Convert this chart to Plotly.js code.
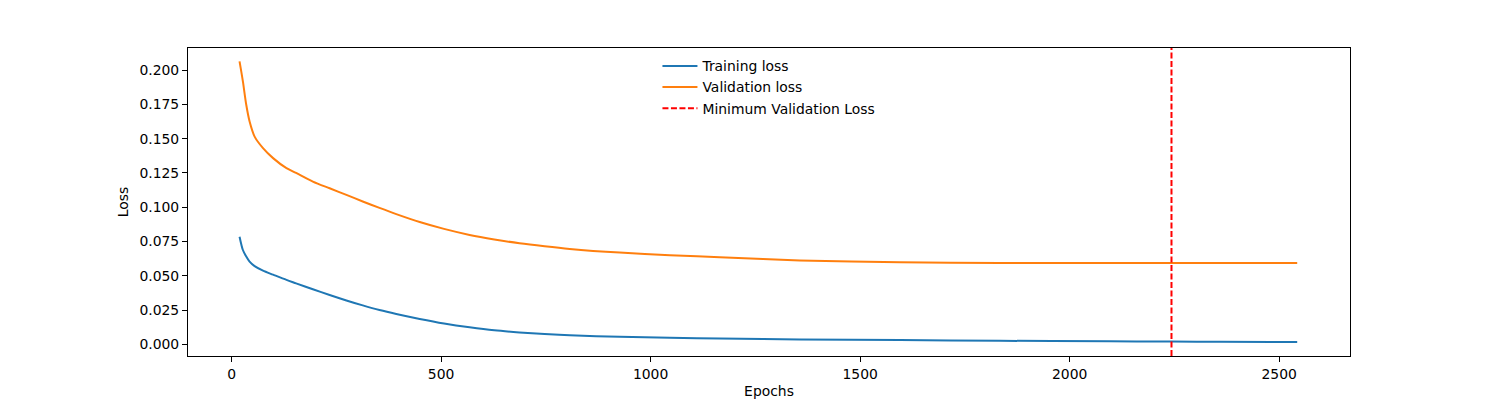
<!DOCTYPE html>
<html>
<head>
<meta charset="utf-8">
<script src="https://cdn.plot.ly/plotly-3.0.1.min.js"></script>
<style>
  html, body { margin: 0; padding: 0; background: #fff; }
  #chart { width: 1500px; height: 400px; }
</style>
</head>
<body>
<div id="chart"></div>
<script>
    // --- DATA ---
    const epochs = [19, 27, 35, 43, 55, 75, 99, 131, 154, 194, 234, 274, 313, 353, 393, 449, 507, 568, 627, 687, 747, 807, 926, 1046, 1165, 1356, 1595, 1833, 2096, 2243, 2358, 2543];
    const trainLoss = [0.0785, 0.0688, 0.0640, 0.0603, 0.0570, 0.0537, 0.0508, 0.0470, 0.0445, 0.0402, 0.0360, 0.0320, 0.0284, 0.0250, 0.0221, 0.0185, 0.0152, 0.0124, 0.0102, 0.0087, 0.0075, 0.0066, 0.0055, 0.0048, 0.0043, 0.0036, 0.0031, 0.0026, 0.0022, 0.0020, 0.0019, 0.0017];
    const valLoss = [0.2063, 0.1917, 0.1747, 0.1625, 0.1515, 0.1431, 0.1358, 0.1285, 0.1250, 0.1187, 0.1138, 0.1090, 0.1042, 0.0995, 0.0950, 0.0892, 0.0842, 0.0798, 0.0765, 0.0737, 0.0715, 0.0696, 0.0669, 0.0650, 0.0635, 0.0612, 0.0599, 0.0594, 0.0593, 0.0593, 0.0593, 0.0593];
    const minValEpoch = 2243;
    const yTicks = [0, 0.025, 0.05, 0.075, 0.1, 0.125, 0.15, 0.175, 0.2];
    const xTicks = [0, 500, 1000, 1500, 2000, 2500];

    const yRange = [-0.0085, 0.2161];
    const xRange = [-104, 2669];

    const FONT = 'DejaVu Sans, sans-serif';
    const FS = 13.9;

    const traces = [
        {
            x: epochs, y: trainLoss, name: 'Training loss', mode: 'lines', legendgroup: 'a',
            line: { color: '#1f77b4', width: 2, shape: 'spline', smoothing: 0.8 }
        },
        {
            x: epochs, y: valLoss, name: 'Validation loss', mode: 'lines', legendgroup: 'b',
            line: { color: '#ff7f0e', width: 2, shape: 'spline', smoothing: 0.8 }
        },
        {
            // vertical marker spanning the whole axis
            x: [minValEpoch, minValEpoch], y: yRange, name: 'Minimum Validation Loss', mode: 'lines', legendgroup: 'c',
            line: { color: 'red', width: 2, dash: '6px,2.5px' }
        }
    ];

    const axisCommon = {
        showgrid: false, zeroline: false,
        showline: true, linecolor: '#000', linewidth: 1, mirror: true,
        ticks: 'outside', ticklen: 5, tickwidth: 1, tickcolor: '#000',
        tickfont: { family: FONT, size: FS, color: '#000' }
    };

    const layout = {
        width: 1500, height: 400,
        margin: { l: 188, r: 150, t: 48, b: 44 },
        paper_bgcolor: '#fff', plot_bgcolor: '#fff',
        font: { family: FONT, size: FS, color: '#000' },
        showlegend: true,
        legend: {
            x: 0.404, y: 0.992, xanchor: 'left', yanchor: 'top',
            bgcolor: 'rgba(0,0,0,0)', borderwidth: 0,
            itemwidth: 35, tracegroupgap: 0, traceorder: 'grouped',
            font: { family: FONT, size: FS, color: '#000' }
        },
        xaxis: Object.assign({}, axisCommon, {
            range: xRange, tickvals: xTicks, ticktext: xTicks.map(String),
            title: { text: 'Epochs', font: { family: FONT, size: FS }, standoff: 5 }
        }),
        yaxis: Object.assign({}, axisCommon, {
            range: yRange, tickvals: yTicks, ticktext: yTicks.map(v => v.toFixed(3)),
            title: { text: 'Loss', font: { family: FONT, size: FS }, standoff: 7 }
        })
    };

    Plotly.newPlot('chart', traces, layout, { displayModeBar: false, staticPlot: true });
</script>
</body>
</html>
